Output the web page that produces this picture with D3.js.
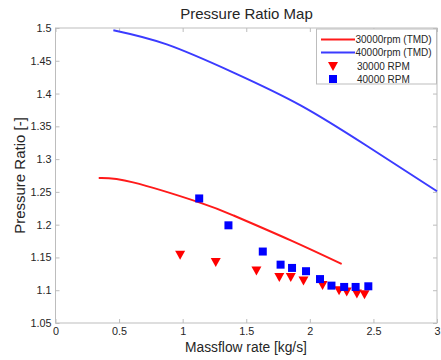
<!DOCTYPE html>
<html><head><meta charset="utf-8">
<script src="https://cdn.jsdelivr.net/npm/d3@7"></script>
<style>body{margin:0;background:#fff}svg{display:block;font-family:"Liberation Sans",Arial,sans-serif}</style>
</head><body><svg id="c" width="441" height="360"></svg>
<script>
const title = "Pressure Ratio Map";
const xLabel = "Massflow rate [kg/s]";
const yLabel = "Pressure Ratio [-]";
const xTicks = [0, 0.5, 1, 1.5, 2, 2.5, 3];
const yTicks = [1.05, 1.1, 1.15, 1.2, 1.25, 1.3, 1.35, 1.4, 1.45, 1.5];

const line30x = [0.34, 0.61, 1.13, 1.40, 1.85, 2.25];
const line30y = [1.271, 1.2645, 1.234, 1.214, 1.176, 1.140];
const line40x = [0.455, 0.875, 1.40, 1.927, 2.45, 3.0];
const line40y = [1.4966, 1.475, 1.432, 1.382, 1.320, 1.251];

const pts30x = [0.98, 1.26, 1.58, 1.76, 1.85, 1.95, 2.10, 2.23, 2.29, 2.37, 2.43];
const pts30y = [1.154, 1.143, 1.130, 1.120, 1.120, 1.115, 1.108, 1.100, 1.098, 1.095, 1.094];
const pts40x = [1.13, 1.36, 1.63, 1.77, 1.86, 1.97, 2.08, 2.17, 2.27, 2.36, 2.46];
const pts40y = [1.240, 1.199, 1.159, 1.139, 1.134, 1.129, 1.117, 1.107, 1.105, 1.105, 1.106];

const legendLabels = ["30000rpm (TMD)", "40000rpm (TMD)", "30000 RPM", "40000 RPM"];

const svg = d3.select("#c");
const L = 55.5, R = 437, T = 28, B = 323;
const x = d3.scaleLinear().domain([0, 3]).range([L, R]);
const y = d3.scaleLinear().domain([1.05, 1.5]).range([B, T]);
const axisCol = "#bdbdbd", textCol = "#262626";

svg.append("rect").attr("x", L).attr("y", T).attr("width", R - L).attr("height", B - T)
  .attr("fill", "none").attr("stroke", axisCol).attr("stroke-width", 1);

function styleAxis(g) {
  g.select(".domain").remove();
  g.selectAll(".tick line").attr("stroke", axisCol);
  g.selectAll(".tick text").attr("fill", textCol).attr("font-size", 10.8)
    .attr("font-family", "Liberation Sans, Arial, sans-serif");
}
svg.append("g").attr("transform", `translate(0,${B})`)
  .call(d3.axisBottom(x).tickValues(xTicks).tickFormat(d3.format("")).tickSize(-4).tickPadding(4))
  .call(styleAxis);
svg.append("g").attr("transform", `translate(0,${T})`)
  .call(d3.axisTop(x).tickValues(xTicks).tickFormat("").tickSize(-4))
  .call(styleAxis);
svg.append("g").attr("transform", `translate(${L},0)`)
  .call(d3.axisLeft(y).tickValues(yTicks).tickFormat(d3.format("")).tickSize(-4).tickPadding(4))
  .call(styleAxis);
svg.append("g").attr("transform", `translate(${R},0)`)
  .call(d3.axisRight(y).tickValues(yTicks).tickFormat("").tickSize(-4))
  .call(styleAxis);

const lineGen = d3.line().x(d => x(d[0])).y(d => y(d[1])).curve(d3.curveNatural);
svg.append("path").datum(line30x.map((v, i) => [v, line30y[i]]))
  .attr("d", lineGen).attr("fill", "none").attr("stroke", "#ff1a1a").attr("stroke-width", 2);
svg.append("path").datum(line40x.map((v, i) => [v, line40y[i]]))
  .attr("d", lineGen).attr("fill", "none").attr("stroke", "#3b3bff").attr("stroke-width", 2);

const tri = (cx, cy) => `M${cx - 5},${cy - 4}L${cx + 5},${cy - 4}L${cx},${cy + 5}Z`;
svg.append("g").selectAll("path").data(pts30x.map((v, i) => [v, pts30y[i]])).join("path")
  .attr("d", d => tri(x(d[0]), y(d[1]))).attr("fill", "#ff0000");
svg.append("g").selectAll("rect").data(pts40x.map((v, i) => [v, pts40y[i]])).join("rect")
  .attr("x", d => x(d[0]) - 4).attr("y", d => y(d[1]) - 4).attr("width", 8).attr("height", 8)
  .attr("fill", "#0000ff");

const lg = svg.append("g");
lg.append("rect").attr("x", 316.5).attr("y", 29).attr("width", 120).attr("height", 55)
  .attr("fill", "#fff").attr("stroke", axisCol);
const rowsY = [39.5, 52.5, 66, 79];
lg.append("line").attr("x1", 321).attr("x2", 355).attr("y1", rowsY[0]).attr("y2", rowsY[0]).attr("stroke", "#ff1a1a").attr("stroke-width", 2);
lg.append("line").attr("x1", 321).attr("x2", 355).attr("y1", rowsY[1]).attr("y2", rowsY[1]).attr("stroke", "#3b3bff").attr("stroke-width", 2);
lg.append("path").attr("d", tri(333, rowsY[2])).attr("fill", "#ff0000");
lg.append("rect").attr("x", 329).attr("y", rowsY[3] - 4).attr("width", 8).attr("height", 8).attr("fill", "#0000ff");
lg.selectAll("text.l").data(legendLabels).join("text").attr("class", "l")
  .attr("x", (d, i) => i < 2 ? 355.5 : 357).attr("y", (d, i) => rowsY[i]).attr("dy", "0.35em")
  .attr("font-size", 10).attr("fill", textCol).text(d => d);

svg.append("text").attr("x", 246.5).attr("y", 14).attr("dy", "0.35em").attr("text-anchor", "middle")
  .attr("font-size", 15).attr("fill", textCol).text(title);
svg.append("text").attr("x", 246).attr("y", 347).attr("dy", "0.35em").attr("text-anchor", "middle")
  .attr("font-size", 13.8).attr("fill", textCol).text(xLabel);
svg.append("text").attr("transform", `translate(20,${(T + B) / 2}) rotate(-90)`).attr("dy", "0.35em")
  .attr("text-anchor", "middle").attr("font-size", 15).attr("fill", textCol).text(yLabel);
</script></body></html>
